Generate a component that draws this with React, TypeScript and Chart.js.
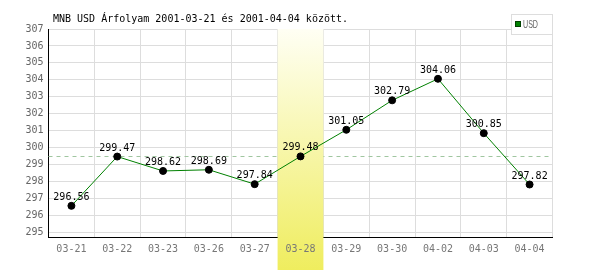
import React, { useEffect, useRef } from "react";
import { Chart, registerables } from "chart.js";

Chart.register(...registerables);

const categories = ["03-21", "03-22", "03-23", "03-26", "03-27", "03-28", "03-29", "03-30", "04-02", "04-03", "04-04"];
const usdValues = [296.56, 299.47, 298.62, 298.69, 297.84, 299.48, 301.05, 302.79, 304.06, 300.85, 297.82];
const yTickValues = [295, 296, 297, 298, 299, 300, 301, 302, 303, 304, 305, 306, 307];
const seriesName = "USD";
const titleText = "MNB USD Árfolyam 2001-03-21 és 2001-04-04 között.";
const highlightCategory = "03-28";
const referenceLevel = 299.53;
const yMin = 294.68;
const yMax = 307;

const MONO = "'DejaVu Sans Mono', monospace";

const decorPlugin = {
  id: "decor",
  beforeDatasetsDraw(chart: any) {
    const { ctx, chartArea: area } = chart;
    const xs = chart.scales.x;
    const ys = chart.scales.y;
    // dashed reference line
    ctx.save();
    const ry = Math.round(ys.getPixelForValue(referenceLevel)) + 0.5;
    ctx.strokeStyle = "#a0c6a0";
    ctx.lineWidth = 1;
    ctx.setLineDash([4, 4]);
    ctx.beginPath();
    ctx.moveTo(area.left, ry);
    ctx.lineTo(area.right, ry);
    ctx.stroke();
    ctx.restore();
    // highlight band
    const idx = categories.indexOf(highlightCategory);
    if (idx >= 0) {
      const cx = xs.getPixelForValue(idx);
      const half = (xs.getPixelForValue(1) - xs.getPixelForValue(0)) / 2;
      const top = area.top;
      const bottom = chart.height;
      const g = ctx.createLinearGradient(0, top, 0, bottom);
      g.addColorStop(0, "#fffff4");
      g.addColorStop(1, "#efed5e");
      ctx.save();
      ctx.fillStyle = g;
      ctx.fillRect(cx - half, top, half * 2, bottom - top);
      ctx.restore();
    }
  },
  afterDatasetsDraw(chart: any) {
    const { ctx } = chart;
    const meta = chart.getDatasetMeta(0);
    ctx.save();
    ctx.font = `10px ${MONO}`;
    ctx.fillStyle = "#000";
    ctx.textAlign = "center";
    ctx.textBaseline = "alphabetic";
    meta.data.forEach((pt: any, i: number) => {
      ctx.fillText(usdValues[i].toFixed(2), pt.x, pt.y - 6);
    });
    ctx.restore();
  },
  afterDraw(chart: any) {
    const { ctx } = chart;
    ctx.save();
    ctx.font = `10px ${MONO}`;
    ctx.fillStyle = "#000";
    ctx.textAlign = "left";
    ctx.textBaseline = "alphabetic";
    ctx.fillText(titleText, 53, 22);
    // legend
    ctx.fillStyle = "#fff";
    ctx.fillRect(511.5, 14.5, 41, 20);
    ctx.strokeStyle = "#dddddd";
    ctx.lineWidth = 1;
    ctx.strokeRect(511.5, 14.5, 41, 20);
    ctx.fillStyle = "#008000";
    ctx.fillRect(515, 21, 6, 6);
    ctx.strokeStyle = "#004000";
    ctx.strokeRect(515.5, 21.5, 5, 5);
    ctx.fillStyle = "#666";
    ctx.font = "11px 'Liberation Sans', sans-serif";
    ctx.fillText(seriesName, 523, 28, 15);
    ctx.restore();
  },
};

export default function App() {
  const ref = useRef<HTMLCanvasElement | null>(null);
  useEffect(() => {
    document.body.style.margin = "0";
    if (!ref.current) return;
    const chart = new Chart(ref.current, {
      type: "line",
      data: {
        labels: categories,
        datasets: [
          {
            label: seriesName,
            data: usdValues,
            borderColor: "#008000",
            borderWidth: 1,
            pointRadius: 3.5,
            pointBackgroundColor: "#000",
            pointBorderColor: "#000",
            pointBorderWidth: 1,
            tension: 0,
            fill: false,
          },
        ],
      },
      options: {
        animation: false,
        responsive: false,
        devicePixelRatio: 1,
        layout: { padding: { top: 29, left: 0, right: 47.5, bottom: 0 } },
        plugins: {
          legend: { display: false },
          title: { display: false },
          tooltip: { enabled: false },
        },
        scales: {
          x: {
            type: "category",
            offset: true,
            grid: { color: "#dddddd", drawTicks: false, offset: true, z: -1 },
            border: { color: "#000", width: 1 },
            ticks: {
              color: "#777",
              font: { family: MONO, size: 10 },
              padding: 6,
              z: 1,
              maxRotation: 0,
              autoSkip: false,
            },
            afterFit(scale: any) {
              scale.height = 32.3;
            },
          },
          y: {
            type: "linear",
            min: yMin,
            max: yMax,
            grid: { color: "#dddddd", drawTicks: false },
            border: { color: "#000", width: 1 },
            ticks: {
              color: "#666",
              font: { family: MONO, size: 10 },
              padding: 5,
              stepSize: 1,
            },
            afterBuildTicks(scale: any) {
              scale.ticks = yTickValues.map((v) => ({ value: v }));
            },
            afterFit(scale: any) {
              scale.width = 48.5;
            },
          },
        },
      },
      plugins: [decorPlugin],
    });
    return () => chart.destroy();
  }, []);
  return (
    <div style={{ width: 600, height: 270 }}>
      <canvas ref={ref} width={600} height={270} />
    </div>
  );
}
